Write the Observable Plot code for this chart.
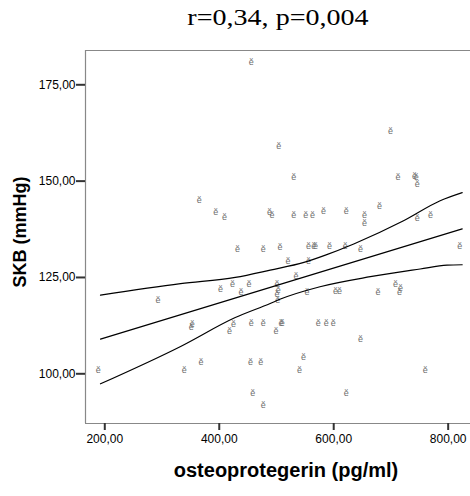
<!DOCTYPE html>
<html>
<head>
<meta charset="utf-8">
<script src="https://cdn.jsdelivr.net/npm/d3@7"></script>
<script src="https://cdn.jsdelivr.net/npm/@observablehq/plot@0.6"></script>
<style>
  html, body { margin: 0; padding: 0; background: #fff; }
  #wrap { width: 470px; height: 496px; position: relative; overflow: hidden; }
  #title { position: relative; height: 36px; width: 470px; }
  #title span { position: absolute; left: 278px; top: 5px; transform: translateX(-50%) scaleX(1.22);
    font-family: "Liberation Serif", "Times New Roman", serif; font-size: 23px; white-space: nowrap; color: #000; }
</style>
</head>
<body>
<div id="wrap">
  <div id="title"><span>r=0,34, p=0,004</span></div>
  <div id="chart"></div>
</div>
<script>
// osteoprotegerin (pg/ml)
const osteo = [456,504,365,394,409,488,492,432,477,506,293,402,423,438,452,501,503,501,502,353,351,425,418,456,477,499,508,510,188.5,339,368,454.5,472.5,458.5,477,699,530,712.5,741,744,746,530,551,563,582,622,654,680,746,769,654,556,565,568,592.5,620,647,820,520,556,534,553.5,603,610,677.5,708,716.5,715,573,587,599,647,547,540,760,622];
// SKB (mmHg)
const skb = [181,159,145,142,140.6,142,141.3,132.4,132.4,133,119,122,123.3,121.3,123.3,123.3,121.7,120.8,119,112.9,112,112.9,111,113.1,113.1,111.2,113.1,113.1,101,101,103,103,103,94.9,92,162.9,151.1,151.1,151.4,151,149.1,141.3,141.3,141.3,142.1,142.1,141.3,143.4,140.4,141.3,139,133.2,133.2,133.2,133.2,133.2,132.4,133.2,129.3,129.2,125.4,121.1,121.4,121.4,121.1,123.4,122.2,121.1,113.1,113.1,113.1,109,104.2,101,101,94.9];

// fit line and confidence band
const fitX = [192.5, 824.5];
const fitY = [109.0, 137.6];
const upperX = [192.5, 332.5, 428, 489, 548, 585.5, 635, 722, 786, 824.5];
const upperY = [120.4, 123.4, 125.0, 126.9, 128.9, 130.8, 133.7, 139.7, 144.9, 147.0];
const lowerX = [192.5, 332.5, 428, 489, 507, 576, 664, 751, 798, 824.5];
const lowerY = [97.4, 107.1, 114.6, 118.25, 119.4, 122.6, 125.2, 127.2, 128.2, 128.3];

const xTicks = [200, 400, 600, 800];
const yTicks = [100, 125, 150, 175];
const xLabel = "osteoprotegerin (pg/ml)";
const yLabel = "SKB (mmHg)";

const xDomain = [166.3, 839];
const yDomain = [87.1, 183.9];

const pts = osteo.map((x, i) => ({x, y: skb[i]}));
const fit = fitX.map((x, i) => ({x, y: fitY[i]}));
const upper = upperX.map((x, i) => ({x, y: upperY[i]}));
const lower = lowerX.map((x, i) => ({x, y: lowerY[i]}));
const fmt = d => d3.format(".2f")(d).replace(".", ",");
const font = "Liberation Sans, Arial, Helvetica, sans-serif";

const chart = Plot.plot({
  width: 470,
  height: 460,
  marginTop: 14,
  marginBottom: 73,
  marginLeft: 85,
  marginRight: 0,
  style: {fontFamily: font, background: "#fff", color: "#000"},
  x: {domain: xDomain},
  y: {domain: yDomain},
  marks: [
    Plot.ruleY(yDomain, {stroke: "#888", strokeWidth: 1.2}),
    Plot.ruleX([xDomain[0]], {stroke: "#888", strokeWidth: 1.2}),
    Plot.axisX({ticks: xTicks, tickFormat: fmt, tickSize: 7, tickPadding: 4, fontSize: 12, strokeWidth: 2, stroke: "#333", label: null}),
    Plot.axisY({ticks: yTicks, tickFormat: fmt, tickSize: 9, tickPadding: 1, fontSize: 12, strokeWidth: 2, stroke: "#333", label: null}),
    Plot.text(pts, {x: "x", y: "y", text: () => "ĕ", fontSize: 9, fill: "#6e6e6e"}),
    Plot.line(upper, {x: "x", y: "y", stroke: "#000", strokeWidth: 1.2, curve: "monotone-x"}),
    Plot.line(fit, {x: "x", y: "y", stroke: "#000", strokeWidth: 1.2}),
    Plot.line(lower, {x: "x", y: "y", stroke: "#000", strokeWidth: 1.2, curve: "monotone-x"}),
    Plot.text([xLabel], {frameAnchor: "bottom", text: d => d, dx: 8, dy: 53, fontSize: 20, fontWeight: "bold", fill: "#000"}),
    Plot.text([yLabel], {frameAnchor: "left", textAnchor: "middle", text: d => d, rotate: -90, dx: -65, dy: -5, fontSize: 18, fontWeight: "bold", fill: "#000"})
  ]
});
document.getElementById("chart").appendChild(chart);
</script>
</body>
</html>
